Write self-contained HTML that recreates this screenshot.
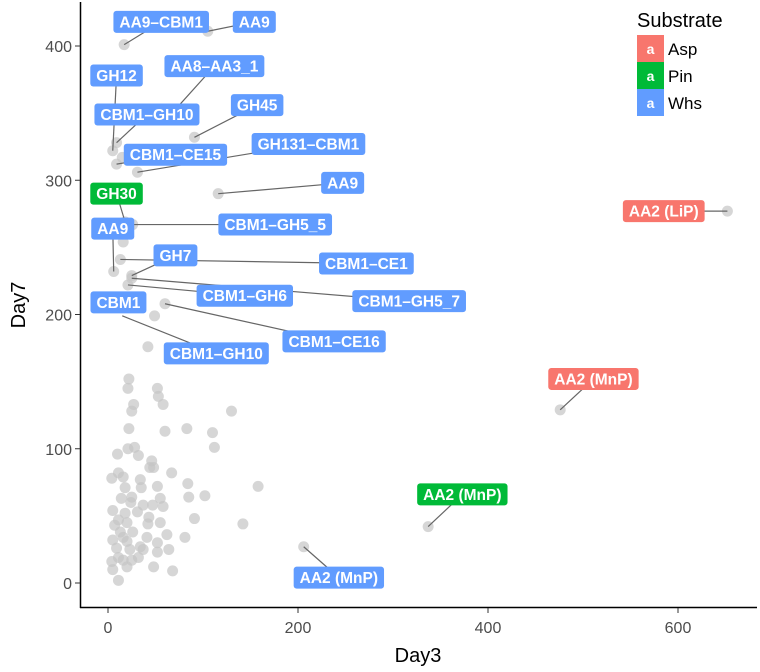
<!DOCTYPE html>
<html><head><meta charset="utf-8"><style>
body{margin:0;background:#fff;}
svg{display:block;font-family:"Liberation Sans",Arial,sans-serif;}
</style></head><body>
<svg id="chart" width="760" height="672" viewBox="0 0 760 672">
<g id="axes"></g>
<g id="pts"></g>
<g id="labs"></g>
<g id="legend">
<text x="637" y="27" font-size="20" fill="#000">Substrate</text>
<g><rect x="637" y="35" width="27" height="27" fill="#F8766D"/><text x="650.5" y="54" font-size="14" font-weight="bold" fill="#fff" text-anchor="middle">a</text><text x="668" y="55" font-size="17">Asp</text></g>
<g><rect x="637" y="62" width="27" height="27" fill="#00BA38"/><text x="650.5" y="81" font-size="14" font-weight="bold" fill="#fff" text-anchor="middle">a</text><text x="668" y="82" font-size="17">Pin</text></g>
<g><rect x="637" y="89" width="27" height="27" fill="#619CFF"/><text x="650.5" y="108" font-size="14" font-weight="bold" fill="#fff" text-anchor="middle">a</text><text x="668" y="109" font-size="17">Whs</text></g>
</g>
</svg>
<script>
const xTicks=[0,200,400,600];
const yTicks=[0,100,200,300,400];
const ptDay3=[42,22,21,52,53,58,27,25,130,22,60,83,110,112,10,21,28,32,46,44,48,11,4,16,67,34,18,35,52,84,158,85,102,14,24,55,58,5,37,47,31,18,91,142,43,55,7,20,42,26,13,62,81,41,5,20,34,52,52,64,9,23,37,4,16,32,48,68,11,5,20,25,11,16,11,25,49,16,206,337,476,652,17,105,5,70,9,91,9,31,116,18,6,26,25,13,21,25,15,60,4];
const ptDay7=[176,152,145,145,139,133,133,128,128,115,113,115,112,101,96,100,101,95,91,86,86,82,78,79,82,77,71,71,72,74,72,64,65,63,60,63,57,54,58,58,53,52,48,44,49,45,43,45,44,38,38,36,34,34,32,31,27,30,23,25,26,25,25,16,17,19,12,9,2,10,12,17,19,34,47,64,199,254,27,42,129,277,401,411,322,352,328,332,312,306,290,269,232,267,229,241,222,227,317,208,209];
const labText=["AA9–CBM1","AA9","GH12","AA8–AA3_1","CBM1–GH10","GH45","CBM1–CE15","GH131–CBM1","AA9","GH30","AA9","CBM1–GH5_5","GH7","CBM1–CE1","CBM1–GH6","CBM1–GH5_7","CBM1","CBM1–CE16","CBM1–GH10","AA2 (LiP)","AA2 (MnP)","AA2 (MnP)","AA2 (MnP)"];
const labSub=["W","W","W","W","W","W","W","W","W","P","W","W","W","W","W","W","W","W","W","A","A","P","W"];
const labDay3=[17,105,5,70,9,91,9,31,116,18,6,26,25,13,21,25,4,60,15,652,476,337,206];
const labDay7=[401,411,322,352,328,332,312,306,290,269,232,267,229,241,222,227,209,208,199,277,129,42,27];
const boxDay3=[56,154,9,112,41,157,71,211,247,9,5,176,71,272,144,317,11,238,114,585,511,373,243];
const boxDay7=[418,418,378,385,349,356,319,327,298,290,264,267,244,238,214,210,209,180,171,277,152,66,4];
const X=v=>108+0.95*v, Y=v=>583-1.3425*v;
const NS="http://www.w3.org/2000/svg";
const mk=(t,a,p)=>{const e=document.createElementNS(NS,t);for(const k in a)e.setAttribute(k,a[k]);p.appendChild(e);return e;};
const ax=document.getElementById('axes');
let l=mk('line',{x1:80.5,y1:2,x2:80.5,y2:608,stroke:'#000','stroke-width':1.5},ax);


l=mk('line',{x1:80,y1:607.5,x2:757,y2:607.5,stroke:'#000','stroke-width':1.5},ax);


xTicks.forEach(v=>{mk('line',{x1:X(v),y1:608,x2:X(v),y2:613,stroke:'#333'},ax);
 const t=mk('text',{x:X(v),y:633,'font-size':16,fill:'#4d4d4d','text-anchor':'middle'},ax);t.textContent=v;
 
 });
yTicks.forEach(v=>{mk('line',{x1:75,y1:Y(v),x2:80,y2:Y(v),stroke:'#333'},ax);
 const t=mk('text',{x:72,y:Y(v)+6,'font-size':16,fill:'#4d4d4d','text-anchor':'end'},ax);t.textContent=v;
 
 });
let t=mk('text',{x:418,y:662,'font-size':20,'text-anchor':'middle'},ax);t.textContent='Day3';


t=mk('text',{x:0,y:0,'font-size':20,'text-anchor':'middle',transform:'translate(25,305) rotate(-90)'},ax);t.textContent='Day7';


const pg=document.getElementById('pts');
ptDay3.forEach((v,i)=>{const c=mk('circle',{cx:X(v),cy:Y(ptDay7[i]),r:5.5,fill:'#c4c4c4','fill-opacity':0.7},pg);
 
 });
const col={A:'#F8766D',P:'#00BA38',W:'#619CFF'};
const lg=document.getElementById('labs');
const segs=mk('g',{},lg);
labText.forEach((s,i)=>{
 const bx=X(boxDay3[i]),by=Y(boxDay7[i]);
 const ln=mk('line',{x1:X(labDay3[i]),y1:Y(labDay7[i]),x2:bx,y2:by,stroke:'#666','stroke-width':1.2},segs);
 
 
 const g=mk('g',{},lg);
 
 
 const r=mk('rect',{x:bx,y:by-11,width:10,height:22,rx:3,fill:col[labSub[i]]},g);
 const tx=mk('text',{x:bx,y:by+5.5,'font-size':15.5,'font-weight':'bold',fill:'#fff','text-anchor':'middle'},g);tx.textContent=s;
 const w=tx.getComputedTextLength()+12;
 r.setAttribute('x',bx-w/2);r.setAttribute('width',w);
});
</script>
</body></html>
